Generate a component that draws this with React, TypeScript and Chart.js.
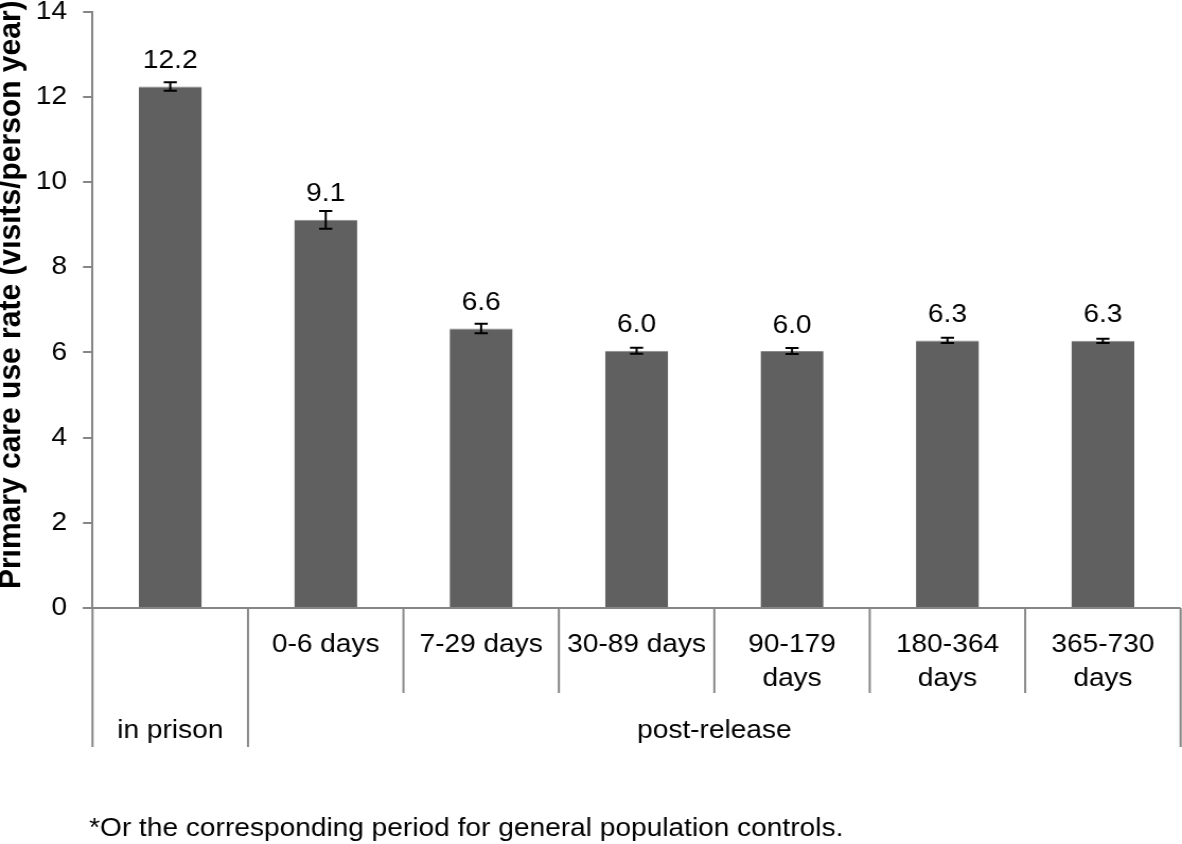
import React, { useEffect, useRef } from "react";
import { Chart, registerables } from "chart.js";

Chart.register(...registerables);

// ---- data ----
const categories = [
  "in prison",
  "0-6 days",
  "7-29 days",
  "30-89 days",
  "90-179 days",
  "180-364 days",
  "365-730 days",
];
const tickLabelLines: string[][] = [
  [],
  ["0-6 days"],
  ["7-29 days"],
  ["30-89 days"],
  ["90-179", "days"],
  ["180-364", "days"],
  ["365-730", "days"],
];
const rates = [12.24, 9.11, 6.56, 6.04, 6.03, 6.28, 6.27];
const errors = [0.1, 0.21, 0.11, 0.07, 0.07, 0.06, 0.05];
const valueLabels = ["12.2", "9.1", "6.6", "6.0", "6.0", "6.3", "6.3"];
const groupNames = ["in prison", "post-release"];
const groupSizes = [1, 6];
const yMin = 0;
const yMax = 14;
const yStep = 2;
const yTitle = "Primary care use rate (visits/person year)";
const footnote = "*Or the corresponding period for general population controls.";

// ---- styling ----
const STRETCH = 1.06; // horizontal stretch of the reference picture
const OUT_W = 1182;
const OUT_H = 844;
const IN_W = Math.round(OUT_W / STRETCH);
const FONT = "'Liberation Sans', Arial, sans-serif";
const FS = 26.5;
const AXIS_GREY = "#868686";
const BAR_GREY = "#606060";

const annotationsPlugin = {
  id: "annotations",
  afterDatasetsDraw(chart: any) {
    const ctx = chart.ctx;
    const x = chart.scales.x;
    const y = chart.scales.y;
    ctx.save();
    // error bars
    ctx.strokeStyle = "#000";
    ctx.lineWidth = 2;
    const cap = 6.2;
    rates.forEach((v, i) => {
      const cx = x.getPixelForValue(i);
      const yt = y.getPixelForValue(v + errors[i]);
      const yb = y.getPixelForValue(v - errors[i]);
      ctx.beginPath();
      ctx.moveTo(cx, yt);
      ctx.lineTo(cx, yb);
      ctx.moveTo(cx - cap, yt);
      ctx.lineTo(cx + cap, yt);
      ctx.moveTo(cx - cap, yb);
      ctx.lineTo(cx + cap, yb);
      ctx.stroke();
    });
    // value labels
    ctx.fillStyle = "#000";
    ctx.font = `${FS}px ${FONT}`;
    ctx.textAlign = "center";
    ctx.textBaseline = "alphabetic";
    rates.forEach((v, i) => {
      const cx = x.getPixelForValue(i);
      ctx.fillText(valueLabels[i], cx, y.getPixelForValue(v) - 18.5);
    });
    ctx.restore();
  },
  afterDraw(chart: any) {
    const ctx = chart.ctx;
    const area = chart.chartArea;
    const n = categories.length;
    const w = (area.right - area.left) / n;
    const x = chart.scales.x;
    ctx.save();
    // baseline
    ctx.strokeStyle = AXIS_GREY;
    ctx.lineWidth = 2;
    ctx.beginPath();
    ctx.moveTo(area.left - 9, area.bottom);
    ctx.lineTo(area.right, area.bottom);
    ctx.stroke();
    // separators
    const groupEdges = [0];
    groupSizes.forEach((s) => groupEdges.push(groupEdges[groupEdges.length - 1] + s));
    for (let k = 0; k <= n; k++) {
      const ex = area.left + k * w;
      const isGroup = groupEdges.includes(k);
      ctx.beginPath();
      ctx.moveTo(ex, area.bottom);
      ctx.lineTo(ex, area.bottom + (isGroup ? 139 : 85));
      ctx.stroke();
    }
    // category labels
    ctx.fillStyle = "#000";
    ctx.font = `${FS}px ${FONT}`;
    ctx.textAlign = "center";
    ctx.textBaseline = "middle";
    tickLabelLines.forEach((lines, i) => {
      const cx = x.getPixelForValue(i);
      lines.forEach((ln, j) => {
        ctx.fillText(ln, cx, area.bottom + 37 + j * 34);
      });
    });
    // group labels
    groupNames.forEach((g, gi) => {
      const a = area.left + groupEdges[gi] * w;
      const b = area.left + groupEdges[gi + 1] * w;
      ctx.fillText(g, (a + b) / 2, area.bottom + 123);
    });
    // footnote
    ctx.textAlign = "left";
    ctx.fillText(footnote, 84, area.bottom + 221);
    // y title
    ctx.translate(18.7, (area.top + area.bottom) / 2 - 15);
    ctx.rotate(-Math.PI / 2);
    ctx.font = `bold 30px ${FONT}`;
    ctx.textAlign = "center";
    ctx.textBaseline = "alphabetic";
    ctx.fillText(yTitle, 0, 0);
    ctx.restore();
  },
};

export default function App() {
  const ref = useRef<HTMLCanvasElement | null>(null);
  useEffect(() => {
    if (!ref.current) return;
    const chart = new Chart(ref.current, {
      type: "bar",
      data: {
        labels: categories,
        datasets: [
          {
            data: rates,
            backgroundColor: BAR_GREY,
            borderColor: "#8a8a8a",
            borderWidth: { top: 1, left: 0, right: 0, bottom: 0 } as any,
            barPercentage: 0.405,
            categoryPercentage: 1,
          },
        ],
      },
      options: {
        responsive: false,
        animation: false,
        devicePixelRatio: 1,
        layout: { padding: { top: 11.5, right: 1.3, bottom: OUT_H - 608, left: 0 } },
        plugins: { legend: { display: false }, tooltip: { enabled: false }, title: { display: false } },
        scales: {
          x: { display: false, offset: true },
          y: {
            min: yMin,
            max: yMax,
            ticks: {
              stepSize: yStep,
              color: "#000",
              font: { family: FONT, size: FS },
              padding: 15,
            },
            grid: {
              display: true,
              drawOnChartArea: false,
              drawTicks: true,
              tickLength: 9,
              color: AXIS_GREY,
              lineWidth: 2,
            },
            border: { display: true, color: AXIS_GREY, width: 2 },
            afterFit: (scale: any) => {
              scale.width = 87.3;
              scale.paddingTop = 0;
              scale.paddingBottom = 0;
            },
          },
        },
      },
      plugins: [annotationsPlugin],
    });
    return () => chart.destroy();
  }, []);
  return (
    <div style={{ position: "absolute", left: 0, top: 0, width: OUT_W, height: OUT_H, background: "#fff" }}>
      <canvas
        ref={ref}
        width={IN_W}
        height={OUT_H}
        style={{ display: "block", width: `${OUT_W}px`, height: `${OUT_H}px` }}
      />
    </div>
  );
}
